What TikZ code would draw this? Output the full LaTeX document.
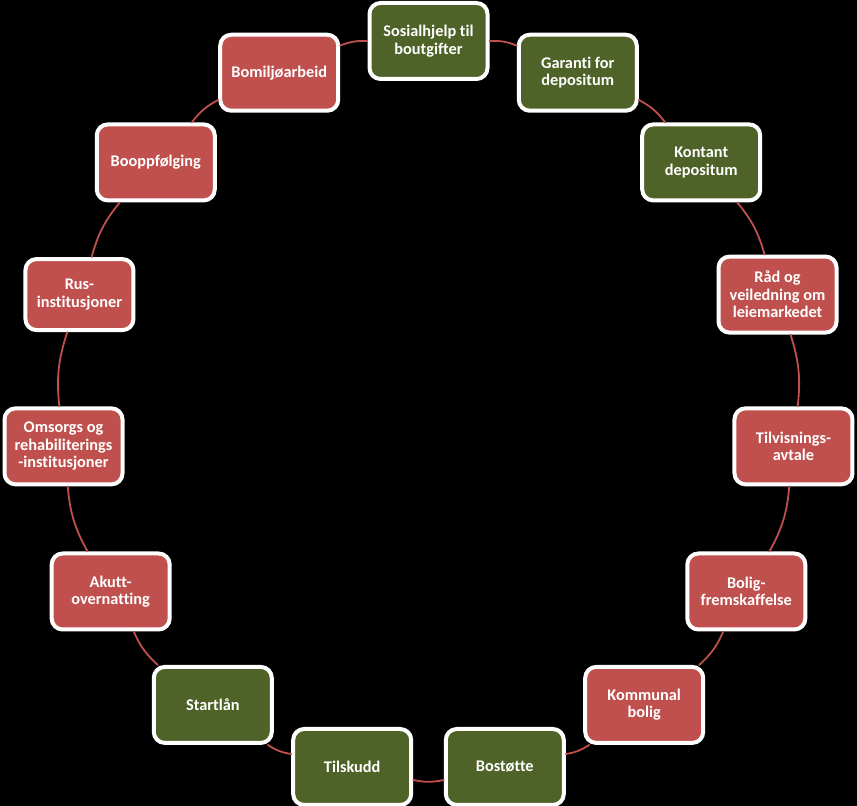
\documentclass[tikz,border=0pt]{standalone}
\usepackage{fontspec}
\setmainfont[Ligatures=NoCommon]{Carlito}
\definecolor{olivegreen}{HTML}{4F6228}
\definecolor{brickred}{HTML}{C0504D}
\tikzset{
	box/.style={draw=white, line width=4pt, rounded corners=11pt, minimum width=118pt, minimum height=76pt,
		inner sep=2pt, align=center, text=white, font=\bfseries\fontsize{16.3}{17.5}\selectfont},
	gbox/.style={box, fill=olivegreen},
	rbox/.style={box, fill=brickred},
	ring/.style={brickred, line width=1.8pt},
}
\begin{document}
\begin{tikzpicture}[x=1pt, y=1pt, line join=round, line cap=round]
	\def\cx{428.5} \def\cy{398} \def\r{367} % centre og radius
	\fill[black] (0,0) rectangle (857,806);
	\useasboundingbox (0,0) rectangle (857,806);
	\begin{scope}[shift={(\cx,\cy)}]
		\node[gbox] (sos) at (90:\r) {Sosialhjelp til\\boutgifter};
		\node[gbox] (garanti) at (66:\r) {Garanti for\\depositum};
		\node[gbox] (kontant) at (42:\r) {Kontant\\depositum};
		\node[rbox] (raad) at (18:\r) {Råd og\\veiledning om\\leiemarkedet};
		\node[rbox] (tilvis) at (-6:\r) {Tilvisnings-\\avtale};
		\node[rbox] (bolig) at (-30:\r) {Bolig-\\fremskaffelse};
		\node[rbox] (kommunal) at (-54:\r) {Kommunal\\bolig};
		\node[gbox] (bostotte) at (-78:\r) {Bostøtte};
		\node[gbox] (tilskudd) at (-102:\r) {Tilskudd};
		\node[gbox] (startlan) at (-126:\r) {Startlån};
		\node[rbox] (akutt) at (-150:\r) {Akutt-\\overnatting};
		\node[rbox] (omsorg) at (-174:\r) {Omsorgs og\\rehabiliterings\\-institusjoner};
		\node[rbox, minimum width=108pt, minimum height=71pt] (rus) at (162:\r) {Rus-\\institusjoner};
		\node[rbox] (boopp) at (138:\r) {Booppfølging};
		\node[rbox] (bomiljo) at (114:\r) {Bomiljøarbeid};
	\end{scope}
	\foreach \a/\b in {sos/garanti, garanti/kontant, kontant/raad, raad/tilvis, tilvis/bolig,
		bolig/kommunal, kommunal/bostotte, bostotte/tilskudd, tilskudd/startlan, startlan/akutt,
		akutt/omsorg, omsorg/rus, rus/boopp, boopp/bomiljo, bomiljo/sos}
		\draw[ring] (\a) to[bend left=12] (\b);
\end{tikzpicture}
\end{document}
